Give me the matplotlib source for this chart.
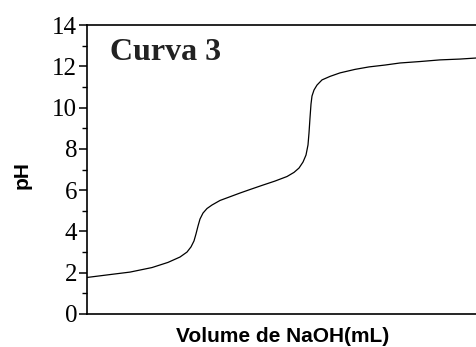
import matplotlib
matplotlib.use("Agg")
import matplotlib.pyplot as plt
from matplotlib.ticker import MultipleLocator, NullLocator

volume = [0.0, 2.3, 4.3, 6.5, 8.1, 9.3, 10.0, 10.4, 10.7, 10.9, 11.1, 11.3, 11.6, 12.0,
          12.5, 13.3, 14.3, 15.3, 16.3, 17.5, 18.8, 20.0, 20.7, 21.2, 21.6, 21.9, 22.1,
          22.2, 22.3, 22.4, 22.5, 22.7, 23.0, 23.5, 24.3, 25.3, 26.8, 28.2, 29.8, 31.3,
          33.3, 35.3, 37.3, 38.9]
ph = [1.77, 1.91, 2.03, 2.25, 2.50, 2.76, 3.00, 3.25, 3.54, 3.88, 4.26, 4.60, 4.89, 5.11,
      5.28, 5.50, 5.68, 5.86, 6.03, 6.23, 6.44, 6.66, 6.86, 7.07, 7.36, 7.70, 8.19,
      8.77, 9.50, 10.17, 10.56, 10.85, 11.09, 11.34, 11.51, 11.68, 11.85, 11.97, 12.06, 12.16,
      12.23, 12.31, 12.35, 12.40]
ytick_vals = [0, 2, 4, 6, 8, 10, 12, 14]

fig = plt.figure(figsize=(4.76, 3.47), dpi=100)
ax = fig.add_axes([87/476, 1-314/347, 1-87/476, (314-25)/347])
ax.plot(volume, ph, color="black", lw=0.9, solid_joinstyle="round", antialiased=True)
ax.set_xlim(0, 38.9)
ax.set_ylim(0, 14)
ax.set_yticks(ytick_vals)
ax.yaxis.set_minor_locator(MultipleLocator(1))
ax.xaxis.set_major_locator(NullLocator())
ax.spines["right"].set_visible(False)
for s in ["left", "top", "bottom"]:
    ax.spines[s].set_linewidth(1.2)
ax.tick_params(axis="y", which="major", length=6, width=1.1, direction="out", pad=1,
               labelsize=18, labelfontfamily="Liberation Serif")
ax.tick_params(axis="y", which="minor", length=3.5, width=1.0, direction="out")
ax.text(0.059, 0.879, "Curva 3", transform=ax.transAxes, fontsize=23,
        fontweight="bold", family="Liberation Serif", va="baseline", ha="left", color="#222222")
fig.text(283/476, 1-336/347, "Volume de NaOH(mL)", ha="center", va="center",
         fontsize=15, fontweight="bold", family="Liberation Sans")
fig.text(22/476, 1-175/347, "pH", ha="center", va="center", rotation=90,
         fontsize=15, fontweight="bold", family="Liberation Sans")
fig.savefig("out.png", dpi=100)
